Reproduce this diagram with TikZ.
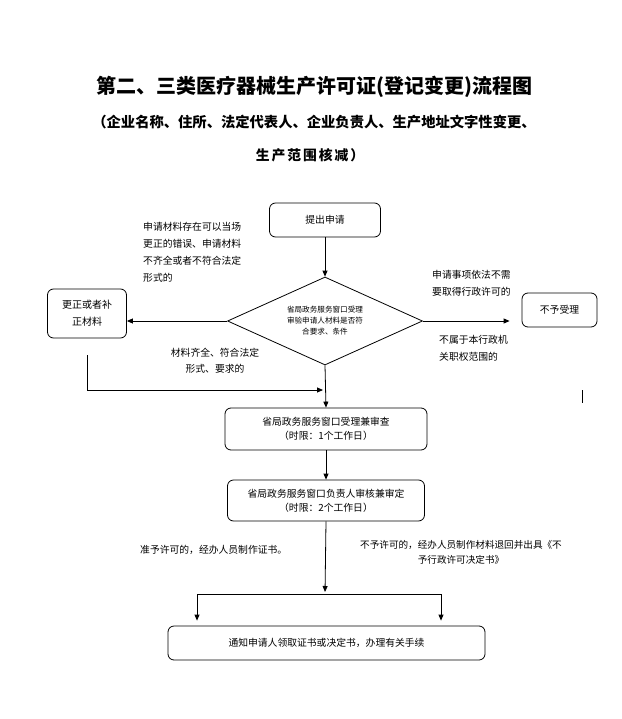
\documentclass[tikz,border=0pt]{standalone}
\usepackage{fontspec}
\setmainfont{Noto Sans CJK SC}
\usepackage{tikz}
\usetikzlibrary{shapes,arrows.meta,backgrounds}
\usetikzlibrary{positioning, shapes.geometric}
\tikzset{
  rbox/.style={ draw, rounded corners=6pt, line width=0.8pt, font=\fontsize{9.8}{14}\selectfont, align=center, inner sep=0pt }
}
\tikzset{
  chk/.style={ draw, diamond, aspect=2.2, inner sep=0pt, minimum width=195pt, minimum height=88pt, line width=0.8pt, font=\fontsize{7.6}{11}\selectfont, align=center }
}
\tikzset{
  note/.style={ font=\fontsize{9.8}{17}\selectfont, align=left, inner sep=0pt }
}
\tikzset{
  arr/.style={ -{Triangle[length=6pt, width=5pt]}, line width=0.8pt }
}

\begin{document}
\begin{tikzpicture}[x=1pt, y=-1pt]
      \useasboundingbox[fill=white] (0,0) rectangle (621,719);
      % headings
      \node[font=\bfseries\fontsize{20}{24}\selectfont] (title) at (314,87) {第二、三类医疗器械生产许可证(登记变更)流程图};
      \node[font=\bfseries\fontsize{14.3}{16}\selectfont] (sub1) at (314,122) {（企业名称、住所、法定代表人、企业负责人、生产地址文字性变更、};
      \node[font=\bfseries\fontsize{13.8}{16}\selectfont\addfontfeatures{LetterSpace=14}] (sub2) at (310,155) {生产范围核减）};
      % boxes
      \node[rbox, minimum width=111pt, minimum height=34pt] (apply) at (325,220) {提出申请};
      \node[chk] (dia) at (325,321) {省局政务服务窗口受理\\审验申请人材料是否符\\合要求、条件};
      \node[rbox, minimum width=79pt, minimum height=49pt, font=\fontsize{10}{17}\selectfont] (fix) at (87,313.5) {更正或者补\\正材料};
      \node[rbox, minimum width=75pt, minimum height=34pt] (reject) at (559.5,310) {不予受理};
      \node[rbox, minimum width=202pt, minimum height=42pt] (accept) at (326,429) {省局政务服务窗口受理兼审查\\（时限：1个工作日）};
      \node[rbox, minimum width=197pt, minimum height=41pt] (decide) at (326,500.5) {省局政务服务窗口负责人审核兼审定\\（时限：2个工作日）};
      \node[rbox, minimum width=317pt, minimum height=34pt] (notify) at (326.5,643) {通知申请人领取证书或决定书，办理有关手续};
      % notes
      \node[note, anchor=west] (n1) at (143,252) {申请材料存在可以当场\\更正的错误、申请材料\\不齐全或者不符合法定\\形式的};
      \node[note, anchor=west] (n2) at (432,283.5) {申请事项依法不需\\要取得行政许可的};
      \node[note, anchor=west] (n3) at (439,348.5) {不属于本行政机\\关职权范围的};
      \node[note, align=center, font=\fontsize{9.8}{16}\selectfont] (n4) at (215,361) {材料齐全、符合法定\\形式、要求的};
      \node[note, anchor=west] (n5) at (140,550) {准予许可的，经办人员制作证书。};
      \node[note, align=center, font=\fontsize{9.6}{15}\selectfont] (n6) at (461,552.5) {不予许可的，经办人员制作材料退回并出具《不\\予行政许可决定书》};
      % joints
      \coordinate (join) at (325,390);
      \coordinate (split) at (325,594);
      \coordinate (splitL) at (197,594);
      \coordinate (splitR) at (441,594);
      \coordinate (markA) at (582,390);
      \coordinate (markB) at (582,403);
      % connectors
      \draw[arr] (apply) -- (dia);
      \draw[arr] (dia.west) -- (dia.west -| fix.east);
      \draw[arr, shorten >=12pt] (dia.east) -- (dia.east -| reject.west);
      \draw[arr, shorten <=17pt, shorten >=2pt] (fix.south) |- (join);
      \draw[arr] (dia.south) -- (accept.north);
      \draw[arr] (accept) -- (decide);
      \draw[arr, shorten >=2pt] (decide.south) -- (split);
      \draw[line width=0.8pt] (splitL) -- (splitR);
      \draw[arr, shorten >=5pt] (splitL) -- (splitL |- notify.north);
      \draw[arr, shorten >=5pt] (splitR) -- (splitR |- notify.north);
      \draw[line width=0.8pt] (markA) -- (markB);
    \end{tikzpicture}
\end{document}
